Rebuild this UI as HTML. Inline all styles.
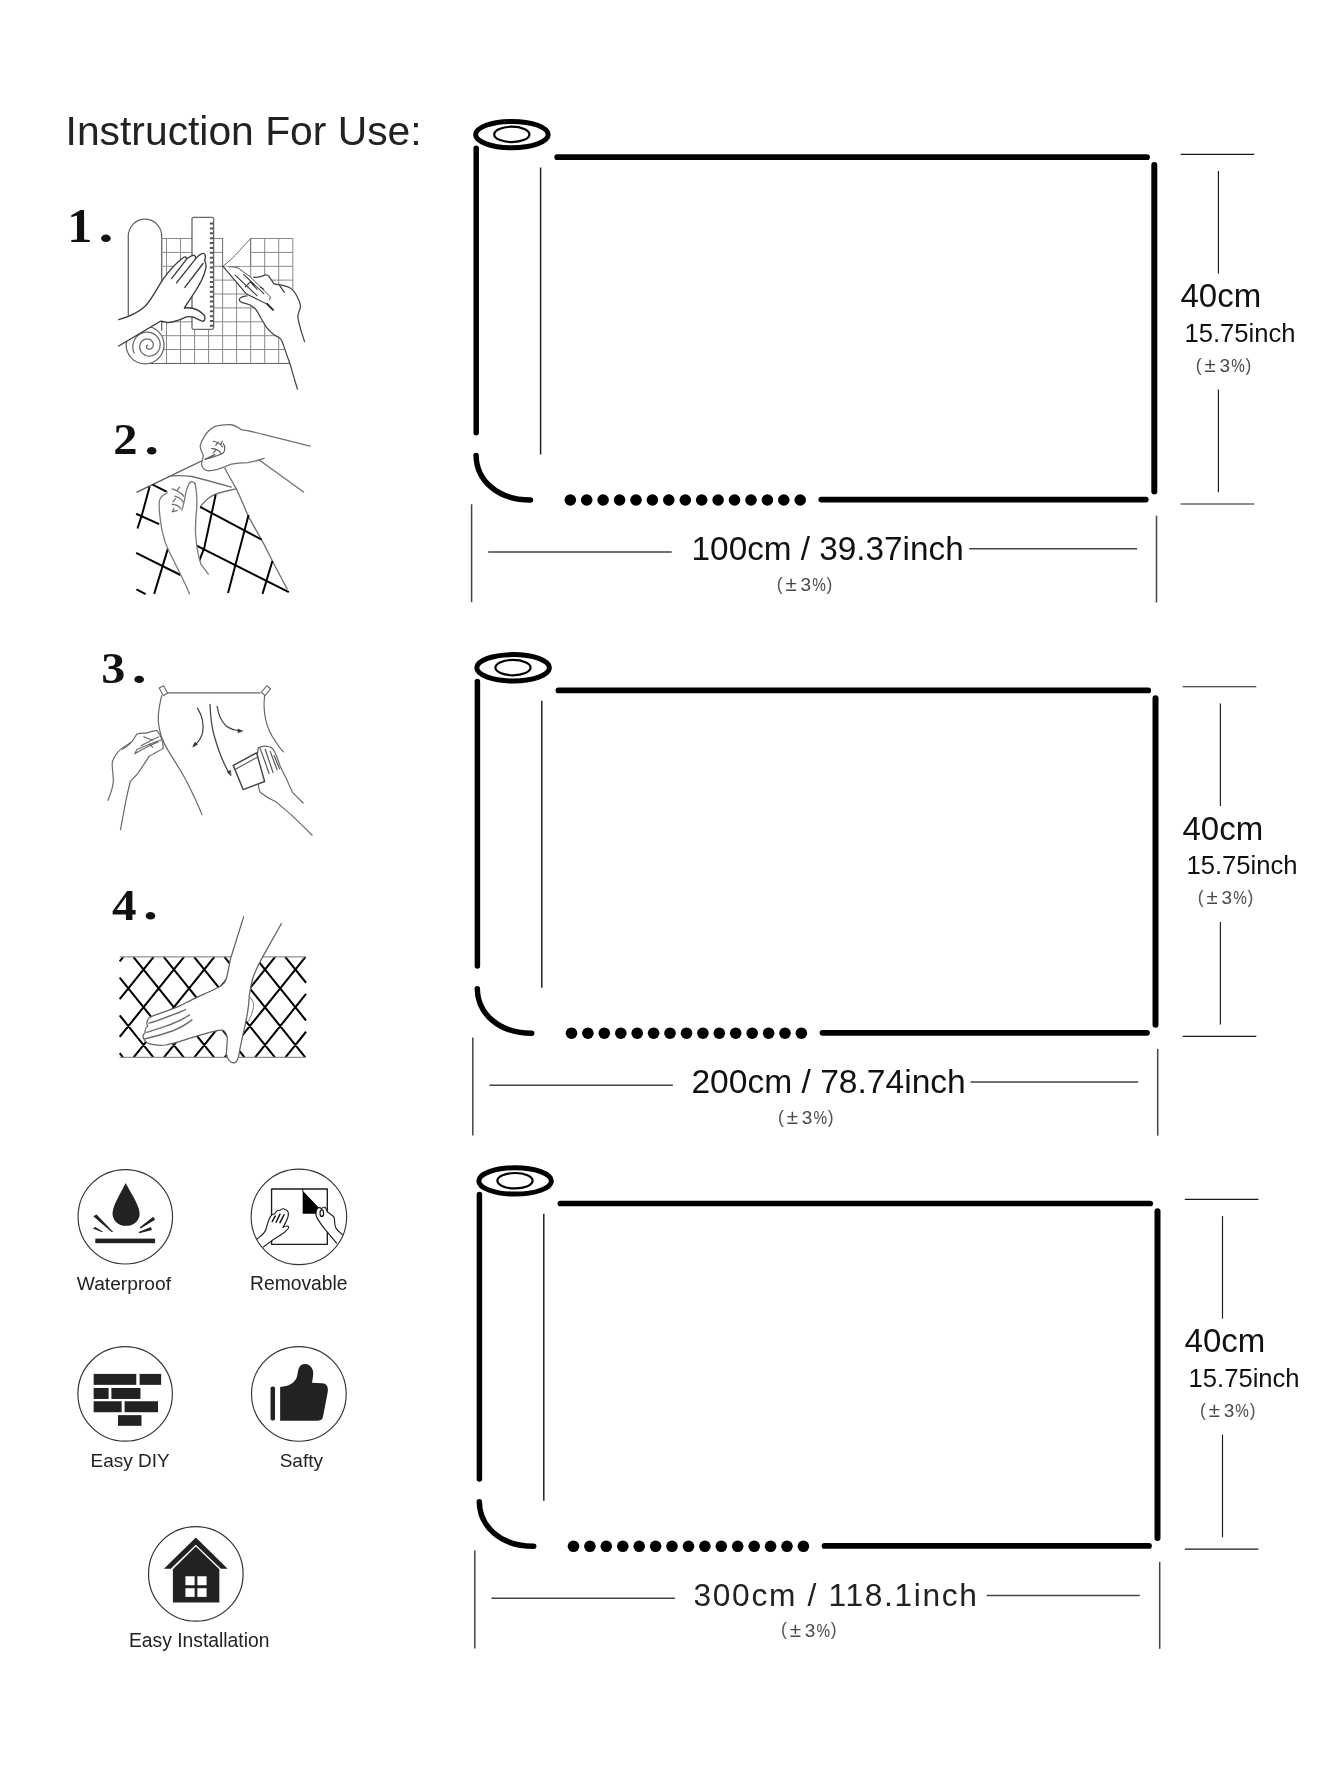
<!DOCTYPE html>
<html><head><meta charset="utf-8">
<style>
html,body{margin:0;padding:0;background:#fff;}
body{width:1340px;height:1785px;overflow:hidden;font-family:"Liberation Sans",sans-serif;}
svg{display:block;will-change:transform;}
text{font-family:"Liberation Sans",sans-serif;}
.ser{font-family:"Liberation Serif",serif;font-weight:bold;}
</style></head><body>
<svg width="1340" height="1785" viewBox="0 0 1340 1785">
<rect width="1340" height="1785" fill="#fff"/>
<defs>
<g id="pm" fill="#484848" stroke="none" font-size="19">
  <text x="-0.8" y="-1.2" font-size="17.5" fill="#555">(</text>
  <text x="8" y="0" font-size="20.5">±</text>
  <text x="23" y="0">3</text>
  <text x="34.6" y="0" textLength="13.6" lengthAdjust="spacingAndGlyphs">%</text>
  <text x="49" y="-1.2" font-size="17.5" fill="#555">)</text>
</g>
<g id="roll" fill="none" stroke="#000" stroke-linecap="round">
  <ellipse cx="511.9" cy="134.6" rx="36.3" ry="13.2" stroke-width="5"/>
  <ellipse cx="511.8" cy="134.4" rx="17.6" ry="7.7" stroke-width="2.2"/>
  <line x1="476.2" y1="148.3" x2="476.2" y2="432.7" stroke-width="5.5"/>
  <path d="M476.1,455.5 C476.5,480 497,500 530.5,500" stroke-width="5.5"/>
  <line x1="540.6" y1="167.5" x2="540.6" y2="454.5" stroke-width="1.5" stroke="#222" stroke-linecap="butt"/>
  <line x1="557.2" y1="157.2" x2="1147" y2="157.2" stroke-width="5.7"/>
  <line x1="1154.3" y1="165" x2="1154.3" y2="491.6" stroke-width="6"/>
  <line x1="821.3" y1="499.6" x2="1145.8" y2="499.6" stroke-width="5.7"/>
  <g fill="#000" stroke="none" id="dots">
    <circle cx="570.3" cy="500" r="5.8"/><circle cx="586.7" cy="500" r="5.8"/><circle cx="603.1" cy="500" r="5.8"/>
    <circle cx="619.6" cy="500" r="5.8"/><circle cx="636" cy="500" r="5.8"/><circle cx="652.4" cy="500" r="5.8"/>
    <circle cx="668.8" cy="500" r="5.8"/><circle cx="685.3" cy="500" r="5.8"/><circle cx="701.7" cy="500" r="5.8"/>
    <circle cx="718.1" cy="500" r="5.8"/><circle cx="734.5" cy="500" r="5.8"/><circle cx="751" cy="500" r="5.8"/>
    <circle cx="767.4" cy="500" r="5.8"/><circle cx="783.8" cy="500" r="5.8"/><circle cx="800.2" cy="500" r="5.8"/>
  </g>
  <g stroke="#444" stroke-width="1.5" stroke-linecap="butt">
    <line x1="471.6" y1="504.2" x2="471.6" y2="602.2"/>
    <line x1="1156.5" y1="515.6" x2="1156.5" y2="602.5"/>
    <line x1="488.2" y1="552" x2="671.7" y2="552"/>
  </g>
</g>
<g id="rdim" fill="none">
  <g stroke="#1a1a1a" stroke-width="1.15" stroke-linecap="butt">
    <line x1="1180.7" y1="154.3" x2="1254.3" y2="154.3"/>
    <line x1="1180.7" y1="504" x2="1254.3" y2="504"/>
    <line x1="1218.4" y1="171" x2="1218.4" y2="273.6"/>
    <line x1="1218.4" y1="389.5" x2="1218.4" y2="492.2"/>
  </g>
  <g stroke="none" fill="#111">
    <text x="1180.5" y="307.2" font-size="33">40cm</text>
    <text x="1184.5" y="341.5" font-size="25.6">15.75inch</text>
    <use href="#pm" x="1196.6" y="372"/>
  </g>
</g>
</defs>

<!-- ROLLS -->
<use href="#roll"/><use href="#rdim"/>
<line x1="969.2" y1="548.8" x2="1137.1" y2="548.8" stroke="#444" stroke-width="1.5"/>
<text x="691.6" y="559.5" font-size="33.3" fill="#111">100cm / 39.37inch</text>
<use href="#pm" x="777.6" y="591"/>

<use href="#roll" transform="translate(1.2,533.2)"/><use href="#rdim" transform="translate(2.0,532.4)"/>
<line x1="970.5" y1="1081.9" x2="1138.2" y2="1081.9" stroke="#444" stroke-width="1.5"/>
<text x="691.4" y="1092.5" font-size="33.6" fill="#111">200cm / 78.74inch</text>
<use href="#pm" x="778.8" y="1124.2"/>

<use href="#roll" transform="translate(3.2,1046.3)"/><use href="#rdim" transform="translate(4.1,1045.1)"/>
<line x1="986.6" y1="1595.6" x2="1139.8" y2="1595.6" stroke="#444" stroke-width="1.5"/>
<text x="693.5" y="1605.8" font-size="31.7" letter-spacing="1.68" fill="#222">300cm / 118.1inch</text>
<use href="#pm" x="781.8" y="1636.6"/>

<!-- HEADING -->
<text x="65.6" y="145.4" font-size="40.8" fill="#222">Instruction For Use:</text>

<!-- ILLUSTRATIONS PLACEHOLDER -->
<g id="ill1" fill="none" stroke-linecap="round" stroke-linejoin="round">
<!-- roll body -->
<path d="M128.3,315 V236 A16.7,16.8 0 0 1 161.7,236 V330" fill="#fff" stroke="#666" stroke-width="1.3"/>
<path d="M166.5,238.5V363.4M180.5,238.5V363.4M194.6,238.5V363.4M208.6,238.5V363.4M222.6,238.5V363.4M236.6,238.5V363.4M250.7,238.5V363.4M264.7,238.5V363.4M278.7,238.5V363.4M292.8,238.5V363.4M161.5,238.5H292.8M161.5,252.4H292.8M161.5,266.3H292.8M161.5,280.1H292.8M161.5,294.0H292.8M161.5,307.9H292.8M161.5,321.8H292.8M161.5,335.7H292.8M161.5,349.5H292.8M161.5,363.4H292.8" stroke="#8a8a8a" stroke-width="1"/>
<!-- cutout -->
<rect x="223.2" y="236" width="27" height="29.8" fill="#fff" stroke="none"/>
<path d="M222.6,238.5 V266.3 M250.6,238.5 V266" stroke="#777" stroke-width="1"/>
<path d="M250.6,238.8 C243,246 236,256 223,266.3" stroke="#666" stroke-width="1"/>
<!-- bottom roll + spiral -->
<circle cx="145.1" cy="345" r="18.9" fill="#fff" stroke="#666" stroke-width="1.25"/>
<path d="M147.7,345.3 L147.5,345.3 L147.4,345.3 L147.2,345.4 L147.0,345.5 L146.8,345.6 L146.7,345.7 L146.6,345.9 L146.5,346.2 L146.4,346.4 L146.4,346.7 L146.4,347.0 L146.4,347.2 L146.5,347.5 L146.7,347.8 L146.8,348.1 L147.1,348.4 L147.4,348.6 L147.7,348.8 L148.0,349.0 L148.4,349.1 L148.9,349.2 L149.3,349.2 L149.8,349.2 L150.2,349.1 L150.7,348.9 L151.1,348.7 L151.6,348.4 L152.0,348.1 L152.3,347.7 L152.7,347.2 L152.9,346.7 L153.1,346.1 L153.3,345.5 L153.3,344.9 L153.3,344.2 L153.2,343.6 L153.0,342.9 L152.7,342.3 L152.4,341.7 L151.9,341.1 L151.4,340.6 L150.8,340.1 L150.2,339.7 L149.4,339.4 L148.7,339.2 L147.9,339.0 L147.0,339.0 L146.2,339.0 L145.3,339.2 L144.5,339.5 L143.7,339.9 L142.9,340.4 L142.2,340.9 L141.6,341.6 L141.0,342.4 L140.5,343.2 L140.1,344.2 L139.9,345.1 L139.7,346.1 L139.7,347.2 L139.8,348.2 L140.0,349.3 L140.4,350.3 L140.8,351.3 L141.5,352.2 L142.2,353.1 L143.0,353.8 L144.0,354.5 L145.0,355.1 L146.1,355.5 L147.3,355.8 L148.5,356.0 L149.7,356.0 L151.0,355.9 L152.2,355.6 L153.4,355.2 L154.6,354.6 L155.7,353.9 L156.7,353.0 L157.6,352.0 L158.4,350.9 L159.1,349.7 L159.6,348.4 L159.9,347.0 L160.1,345.6 L160.1,344.2 L160.0,342.7 L159.7,341.3 L159.2,339.9 L158.5,338.5 L157.6,337.3 L156.6,336.1 L155.5,335.0 L154.2,334.1 L152.8,333.4 L151.3,332.8 L149.7,332.4 L148.1,332.2 L146.5,332.1 L144.8,332.3 L143.2,332.7 L141.6,333.3 L140.1,334.0 L138.6,335.0 L137.3,336.1 L136.1,337.4 L135.1,338.9 L134.2,340.5 L133.6,342.1 L133.1,343.9 L132.8,345.7 L132.8,347.6 L133.0,349.4 L133.4,351.3 L134.1,353.1" stroke="#666" stroke-width="1.25"/>
<line x1="150" y1="363.5" x2="289" y2="363.5" stroke="#666" stroke-width="1.2"/>
<!-- ruler -->
<rect x="192" y="217.3" width="21.6" height="112" rx="1.5" fill="#fff" stroke="#666" stroke-width="1.3"/>
<line x1="211.6" y1="222.6" x2="211.6" y2="328" stroke="#555" stroke-width="3.4" stroke-dasharray="2 2.87" stroke-linecap="butt"/>
<!-- left hand -->
<g transform="translate(115,205) scale(0.149254)">
<path d="M25,768 C90,750 150,725 200,680 C245,635 280,560 320,500 C360,445 420,380 458,352 C470,343 482,348 478,364 C495,350 515,335 530,338 C540,342 542,352 538,362 C555,345 575,322 592,324 C606,328 610,345 600,372 C606,385 614,400 608,425 C600,470 560,550 510,620 L465,690 C510,684 560,700 595,735 C606,750 606,770 590,780 C570,778 548,760 525,752 C505,746 490,748 480,750 C460,757 440,768 420,773 C395,782 370,790 348,787 C330,783 318,778 304,779 L25,945 Z" fill="#fff" stroke="none"/>
<path d="M25,768 C90,750 150,725 200,680 C245,635 280,560 320,500 C360,445 420,380 458,352 C470,343 482,348 478,364 C495,350 515,335 530,338 C540,342 542,352 538,362 C555,345 575,322 592,324 C606,328 610,345 600,372 C606,385 614,400 608,425 C600,470 560,550 510,620 L465,690 C510,684 560,700 595,735 C606,750 606,770 590,780 C570,778 548,760 525,752 C505,746 490,748 480,750 C460,757 440,768 420,773 C395,782 370,790 348,787 C330,783 318,778 304,779 L25,945" stroke="#3a3a3a" stroke-width="9"/>
<path d="M476,368 L380,492 M537,364 L412,522 M590,392 L468,552" stroke="#3a3a3a" stroke-width="9"/>
</g>
<!-- right hand + knife -->
<g transform="translate(210,250) scale(0.084034)">
<path d="M520,322 C560,330 610,320 660,296 C680,292 690,300 700,312 L760,400 C780,410 800,410 822,412 C870,420 915,430 950,450 C990,475 1020,520 1040,560 C1065,610 1080,640 1076,680 C1070,720 1040,760 1046,800 C1050,850 1070,900 1080,950 L1125,1090 L1040,1655 L950,1350 C925,1280 900,1210 880,1150 C865,1100 850,1060 830,1046 C800,1025 770,1020 750,1000 C720,975 700,955 680,930 C650,890 625,840 600,800 C580,760 560,720 530,690 C505,665 470,645 440,640 C410,636 385,632 370,620 C350,605 345,590 352,580 C362,562 380,556 440,546 Z" fill="#fff" stroke="none"/>
<path d="M520,322 C560,330 610,320 660,296 C680,292 690,300 700,312 L760,400 C780,410 800,410 822,412 C870,420 915,430 950,450 C990,475 1020,520 1040,560 C1065,610 1080,640 1076,680 C1070,720 1040,760 1046,800 C1050,850 1070,900 1080,950 L1125,1090" stroke="#444" stroke-width="15"/>
<path d="M822,412 L885,505" stroke="#444" stroke-width="15"/>
<path d="M1040,1655 L950,1350 C925,1280 900,1210 880,1150 C865,1100 850,1060 830,1046 C800,1025 770,1020 750,1000 C720,975 700,955 680,930 C650,890 625,840 600,800 C580,760 560,720 530,690 C505,665 470,645 440,640 C410,636 385,632 370,620 C350,605 345,590 352,580 C362,562 380,556 440,546" stroke="#444" stroke-width="15"/>
<!-- knife -->
<path d="M155,195 L225,198 C270,195 320,205 350,225 L480,320 L720,560 L708,595 L430,520 Z" fill="#fff" stroke="none"/>
<path d="M155,195 L430,520 L690,650" stroke="#333" stroke-width="13"/>
<path d="M680,640 L750,712" stroke="#222" stroke-width="22"/>
<path d="M225,200 C270,195 320,205 350,225 L480,320 L720,560 L708,595" stroke="#444" stroke-width="11"/>
<path d="M300,300 L560,545 M400,290 L640,520 M420,440 L480,380 L560,470 M600,440 L640,465" stroke="#333" stroke-width="12"/>
</g>
</g>
<g id="ill2" fill="none" stroke-linecap="round" stroke-linejoin="round" transform="translate(100,410) scale(0.164179)">
<!-- thin sheet lines -->
<path d="M225,500 L640,300" stroke="#555" stroke-width="8"/>
<path d="M760,355 C790,410 810,445 830,480 C860,545 880,590 900,640 C935,705 970,765 1000,820 C1020,860 1035,890 1050,920 L1140,1090" stroke="#707070" stroke-width="8"/>
<path d="M430,402 C470,398 520,400 560,405 C640,425 730,450 800,470" stroke="#707070" stroke-width="8"/>
<path d="M612,588 C640,550 670,525 705,512 C745,498 790,490 830,480" stroke="#707070" stroke-width="8"/>
<!-- thick pattern -->
<g stroke="#000" stroke-width="12" stroke-linecap="butt">
<path d="M320,455 L430,510"/>
<path d="M220,632 L360,695"/>
<path d="M220,870 L490,1005"/>
<path d="M222,1093 L278,1122"/>
<path d="M610,590 L985,790"/>
<path d="M585,825 L1150,1110"/>
<path d="M302,468 L255,640 L228,722"/>
<path d="M415,840 L330,1120"/>
<path d="M705,515 L635,840 L602,925"/>
<path d="M905,640 L780,1115"/>
<path d="M1050,920 L990,1120"/>
</g>
<!-- lower hand (white fill) -->
<path d="M360,560 C362,520 400,500 440,480 C470,470 500,480 520,500 C525,470 535,445 548,440 C570,432 585,445 588,470 C592,520 592,560 588,610 C582,670 578,720 584,780 C590,840 600,900 615,940 L660,1000 L545,1120 C525,1070 505,1030 490,1000 C470,960 455,930 440,900 C420,860 405,830 395,800 C380,750 370,700 365,650 Z" fill="#fff" stroke="none"/>
<path d="M545,1120 C525,1070 505,1030 490,1000 C470,960 455,930 440,900 C420,860 405,830 395,800 C380,750 370,700 365,650 C360,600 358,570 362,555 C366,530 385,515 410,505" stroke="#7a7a7a" stroke-width="8"/>
<path d="M545,445 C530,470 522,500 518,530 C512,560 505,590 498,610" stroke="#7a7a7a" stroke-width="8"/>
<path d="M580,450 C590,500 592,560 588,610 C582,670 578,720 584,780 C590,840 600,900 615,940 L660,1000" stroke="#7a7a7a" stroke-width="8"/>
<path d="M545,445 C555,432 575,435 580,452" stroke="#7a7a7a" stroke-width="8"/>
<path d="M440,480 C470,490 495,505 510,525 M455,525 C475,530 495,540 505,560 M440,575 C460,575 480,585 490,600 M470,490 L485,470 M460,540 L445,560 M450,600 L440,620 L470,612" stroke="#707070" stroke-width="8"/>
<!-- upper hand (fist) -->
<path d="M1280,220 C1180,195 1080,170 1000,150 C940,135 900,125 860,120 C840,105 820,92 800,90 C765,88 730,92 700,100 C680,110 662,125 650,140 C630,170 615,195 610,220 C610,245 625,262 630,280 C622,300 615,320 620,340 C630,360 645,370 660,370 C680,370 700,365 720,360 C750,350 775,338 800,330 C835,322 870,320 900,320 C935,315 970,305 1000,295 L1240,500 Z" fill="#fff" stroke="none"/>
<path d="M1280,220 C1180,195 1080,170 1000,150 C940,135 900,125 860,120 C840,105 820,92 800,90 C765,88 730,92 700,100 C680,110 662,125 650,140 C630,170 615,195 610,220 C610,245 625,262 630,280 C622,300 615,320 620,340 C630,360 645,370 660,370 C680,370 700,365 720,360 C750,350 775,338 800,330 C835,322 870,320 900,320 C935,315 970,305 1000,295" stroke="#707070" stroke-width="8"/>
<path d="M970,305 L1240,500" stroke="#707070" stroke-width="8"/>
<path d="M690,190 C715,195 735,205 745,225 M680,235 C700,235 725,245 735,262 M640,300 C680,290 720,280 750,262 C765,245 762,220 750,205 M705,215 L720,195 M690,262 L705,245 M745,190 L735,210" stroke="#555" stroke-width="7"/>
<path d="M640,300 L700,272" stroke="#555" stroke-width="8"/>
</g>
<g id="ill3" fill="none" stroke-linecap="round" stroke-linejoin="round" transform="translate(90,640) scale(0.179104)">
<!-- tapes -->
<g stroke="#666" stroke-width="6" fill="#fff">
<rect x="-24" y="-14" width="48" height="28" transform="translate(410,283) rotate(62)"/>
<rect x="-24" y="-14" width="48" height="28" transform="translate(982,283) rotate(-50)"/>
</g>
<path d="M435,295 L950,295" stroke="#666" stroke-width="6.5"/>
<path d="M400,312 C388,360 378,410 382,460 C388,520 410,575 435,615 C465,665 505,725 540,790 C570,850 600,910 625,975" stroke="#666" stroke-width="6.5"/>
<path d="M975,312 C970,350 972,400 980,440 C990,490 1010,530 1035,565 C1050,590 1065,610 1080,625" stroke="#666" stroke-width="6.5"/>
<!-- arrows -->
<path d="M600,380 C625,420 638,470 628,520 C620,550 600,575 582,590" stroke="#444" stroke-width="7"/>
<path d="M574,596 L586,570 L600,582 Z" fill="#333" stroke="#333" stroke-width="3"/>
<path d="M670,360 C672,420 678,480 695,540 C715,610 745,690 778,745" stroke="#444" stroke-width="7"/>
<path d="M786,758 L766,736 L784,728 Z" fill="#333" stroke="#333" stroke-width="3"/>
<path d="M710,370 C715,410 730,450 760,480 C785,498 815,505 840,506" stroke="#444" stroke-width="7"/>
<path d="M852,508 L826,497 L826,517 Z" fill="#333" stroke="#333" stroke-width="3"/>
<!-- left hand -->
<path d="M100,895 C115,860 128,820 130,790 C132,750 120,715 125,680 C135,650 150,628 170,612 C190,595 215,582 232,570 C245,555 252,538 262,525 C280,518 300,520 315,520 C335,512 355,508 372,505 C385,515 395,535 402,560 C408,580 410,595 408,605 C385,615 355,625 330,650 C310,680 290,712 270,740 C255,760 238,775 225,790 C215,830 207,865 200,900 L170,1060 Z" fill="#fff" stroke="none"/>
<path d="M100,895 C115,860 128,820 130,790 C132,750 120,715 125,680 C135,650 150,628 170,612 C190,595 215,582 232,570 C245,555 252,538 262,525 C280,518 300,520 315,520 C335,512 355,508 372,505 C385,515 395,535 402,560 C408,580 410,595 408,605" stroke="#666" stroke-width="6.5"/>
<path d="M170,1060 L200,900 C207,865 215,830 225,790 C238,775 255,760 270,740 C290,712 310,680 330,650" stroke="#666" stroke-width="6.5"/>
<path d="M250,635 C285,615 330,590 380,570 M262,612 C300,595 345,575 395,560 M285,590 C320,570 350,555 385,540 M180,610 C200,600 215,590 228,575 M250,635 L262,612 M330,650 C350,635 385,620 408,605 M300,540 L350,560 M330,580 L350,600" stroke="#666" stroke-width="6"/>
<!-- squeegee -->
<!-- right hand -->
<path d="M940,602 C960,592 985,592 1000,596 C1015,600 1025,610 1030,622 C1045,650 1052,680 1062,705 C1075,735 1090,760 1100,782 C1112,810 1120,830 1132,852 L1190,910 L1240,1090 C1200,1050 1165,1015 1130,982 C1100,955 1070,930 1040,905 C1005,890 975,870 950,850 C942,835 940,815 940,800 C955,795 965,790 975,790 L930,632 Z" fill="#fff" stroke="none"/>
<path d="M940,602 C960,592 985,592 1000,596 C1015,600 1025,610 1030,622 C1045,650 1052,680 1062,705 C1075,735 1090,760 1100,782 C1112,810 1120,830 1132,852 L1190,910" stroke="#666" stroke-width="6.5"/>
<path d="M1240,1090 C1200,1050 1165,1015 1130,982 C1100,955 1070,930 1040,905 C1005,890 975,870 950,850 C942,835 940,815 940,800" stroke="#666" stroke-width="6.5"/>
<path d="M800,700 L930,630 L975,790 L855,835 Z" fill="#fff" stroke="#444" stroke-width="8"/>
<path d="M812,722 L938,652" stroke="#555" stroke-width="6"/>
<path d="M950,605 L1000,745 M978,610 L1022,740 M1006,622 L1045,725 M1028,645 L1058,718" stroke="#555" stroke-width="6.5"/>
<path d="M940,602 L935,635" stroke="#555" stroke-width="6.5"/>
</g>
<g id="ill4" fill="none" stroke-linecap="round" stroke-linejoin="round" transform="translate(100,880) scale(0.164179)">
<path d="M140.3,1080.0L120.0,1054.7M325.3,1080.0L120.0,824.7M510.3,1080.0L120.0,594.7M141.9,468.0L120.0,495.3M203.1,468.0L695.3,1080.0M326.9,468.0L120.0,725.3M388.1,468.0L880.3,1080.0M511.9,468.0L120.0,955.3M573.1,468.0L1065.3,1080.0M696.9,468.0L204.7,1080.0M758.1,468.0L1250.3,1080.0M881.9,468.0L389.7,1080.0M943.1,468.0L1255.0,855.8M1066.9,468.0L574.7,1080.0M1128.1,468.0L1255.0,625.8M1251.9,468.0L759.7,1080.0M944.7,1080.0L1255.0,694.2M1129.7,1080.0L1255.0,924.2" stroke="#000" stroke-width="12.5" stroke-linecap="butt"/>
<path d="M120,468 H1255 M120,1080 H1255" stroke="#909090" stroke-width="7.5" stroke-linecap="butt"/>
<!-- hand -->
<path d="M875,225 L795,480 C785,530 778,570 770,600 C760,630 740,645 720,655 C680,675 640,692 600,710 C560,728 520,750 480,770 C430,790 380,808 330,825 C310,832 295,840 290,852 C282,870 285,880 290,890 C278,900 272,915 275,930 C262,940 260,955 265,965 C275,985 290,995 310,1000 C340,1008 370,1008 400,1005 C455,995 510,975 560,960 C610,945 655,930 700,920 C720,915 738,912 750,915 C765,925 772,940 775,960 C776,995 770,1030 770,1060 C775,1085 785,1100 800,1110 C815,1118 830,1112 835,1100 C845,1080 848,1060 850,1040 C860,990 870,945 880,900 C888,865 895,830 900,800 C905,765 908,730 910,700 C915,665 922,630 930,600 C945,555 968,510 990,470 L1105,265 Z" fill="#fff" stroke="none"/>
<path d="M875,225 L795,480 C785,530 778,570 770,600 C760,630 740,645 720,655 C680,675 640,692 600,710 C560,728 520,750 480,770 C430,790 380,808 330,825 C310,832 295,840 290,852 C282,870 285,880 290,890 C278,900 272,915 275,930 C262,940 260,955 265,965 C275,985 290,995 310,1000 C340,1008 370,1008 400,1005 C455,995 510,975 560,960 C610,945 655,930 700,920 C720,915 738,912 750,915 C765,925 772,940 775,960 C776,995 770,1030 770,1060 C775,1085 785,1100 800,1110 C815,1118 830,1112 835,1100 C845,1080 848,1060 850,1040 C860,990 870,945 880,900 C888,865 895,830 900,800 C905,765 908,730 910,700 C915,665 922,630 930,600 C945,555 968,510 990,470 L1105,265" stroke="#606060" stroke-width="7.5"/>
<path d="M300,872 C340,860 380,845 420,830 C455,818 490,805 520,790 M285,928 C335,912 385,895 430,880 C470,865 510,845 545,822 M272,968 C330,955 390,938 440,920 C485,902 525,880 560,852" stroke="#707070" stroke-width="9"/>
<path d="M910,710 C930,730 938,750 935,772 C930,805 918,835 905,860" stroke="#777" stroke-width="6"/>
</g>
<g id="labels" fill="#111">
<text class="ser" transform="translate(67.3,241.8) scale(1.17,1.125)" font-size="43">1</text><ellipse cx="105.9" cy="238.3" rx="4.8" ry="3.7"/>
<text class="ser" transform="translate(113.3,454.3) scale(1.13,1.05)" font-size="43">2</text><ellipse cx="151.7" cy="450.8" rx="4.8" ry="3.7"/>
<text class="ser" transform="translate(101.2,683.3) scale(1.12,1.05)" font-size="43">3</text><ellipse cx="139.2" cy="679.4" rx="4.8" ry="3.7"/>
<text class="ser" transform="translate(112.0,919.5) scale(1.14,1.05)" font-size="43">4</text><ellipse cx="150.5" cy="915.8" rx="4.8" ry="3.7"/>
</g>

<!-- ICONS -->
<g id="icons">
<!-- Waterproof -->
<g transform="translate(60,1150) scale(0.10448)">
  <circle cx="625" cy="639.5" r="452" fill="none" stroke="#333" stroke-width="11"/>
  <path d="M628,316 C600,380 508,520 503,602 C500,672 556,726 632,726 C710,726 766,672 762,602 C756,520 660,380 628,316 Z" fill="#222"/>
  <rect x="338" y="848" width="572" height="44" fill="#222"/>
  <polygon points="318,634 350,618 510,784 494,784" fill="#222"/>
  <polygon points="314,752 338,736 414,784 398,786" fill="#222"/>
  <polygon points="892,640 910,668 772,752 762,742" fill="#222"/>
  <polygon points="870,738 880,766 760,796 752,784" fill="#222"/>
</g>
<text x="76.8" y="1290" font-size="19.2" fill="#222">Waterproof</text>
<!-- Removable -->
<g transform="translate(250,1170) scale(0.074627)" stroke-linecap="round" stroke-linejoin="round">
  <rect x="289" y="254" width="747" height="742" fill="#fff" stroke="#1a1a1a" stroke-width="18"/>
  <line x1="708" y1="254" x2="708" y2="285" stroke="#1a1a1a" stroke-width="12"/>
  <polygon points="706,278 706,587 1000,587" fill="#000"/>
  <!-- left hand -->
  <path d="M95,925 C150,880 195,850 212,800 C228,750 240,690 262,645 C280,610 305,585 330,590 C345,560 375,535 400,540 C420,520 450,515 468,530 C490,535 515,560 515,595 C512,640 490,690 440,770 C470,752 505,745 518,762 C520,790 490,815 440,850 C380,885 300,935 180,1030 Z" fill="#fff" stroke="none"/>
  <path d="M95,925 C150,880 195,850 212,800 C228,750 240,690 262,645 C280,610 305,585 330,590 C345,560 375,535 400,540 C420,520 450,515 468,530 C490,535 515,560 515,595 C512,640 490,690 440,770 C470,752 505,745 518,762 C520,790 490,815 440,850 C380,885 300,935 180,1030" fill="none" stroke="#1a1a1a" stroke-width="15"/>
  <path d="M298,690 L338,618 M350,700 L402,592 M402,705 L456,600" fill="none" stroke="#111" stroke-width="20"/>
  <!-- right hand -->
  <path d="M1240,870 C1200,830 1160,800 1148,770 C1130,730 1135,680 1130,640 C1115,610 1070,585 1035,560 C1025,535 1020,510 1005,500 C985,495 970,505 960,520 C945,505 920,500 905,512 C890,530 880,570 885,610 C900,660 950,725 1000,790 C1050,850 1100,910 1160,980 Z" fill="#fff" stroke="none"/>
  <path d="M1240,870 C1200,830 1160,800 1148,770 C1130,730 1135,680 1130,640 C1115,610 1070,585 1035,560 C1025,535 1020,510 1005,500 C985,495 970,505 960,520 C945,505 920,500 905,512 C890,530 880,570 885,610 C900,660 950,725 1000,790 C1050,850 1100,910 1160,980" fill="none" stroke="#1a1a1a" stroke-width="15"/>
  <ellipse cx="962" cy="578" rx="24" ry="44" fill="#fff" stroke="#111" stroke-width="16"/>
  <circle cx="655" cy="628" r="640" fill="none" stroke="#333" stroke-width="15"/>
</g>
<text x="250" y="1290" font-size="19.3" fill="#222">Removable</text>
<!-- Easy DIY -->
<g transform="translate(60,1330) scale(0.10448)">
  <circle cx="623.5" cy="611.5" r="452" fill="none" stroke="#333" stroke-width="11"/>
  <g fill="#222">
  <rect x="322" y="420" width="408" height="105"/><rect x="762" y="420" width="206" height="105"/>
  <rect x="322" y="555" width="143" height="105"/><rect x="492" y="555" width="278" height="105"/>
  <rect x="322" y="682" width="268" height="105"/><rect x="618" y="682" width="320" height="105"/>
  <rect x="555" y="815" width="225" height="102"/>
  </g>
</g>
<text x="90.5" y="1467.4" font-size="19" fill="#222">Easy DIY</text>
<!-- Safty -->
<g transform="translate(230,1330) scale(0.10448)">
  <circle cx="659" cy="611.5" r="453" fill="none" stroke="#333" stroke-width="11"/>
  <rect x="388" y="540" width="43" height="326" rx="18" fill="#222"/>
  <path d="M480,545 C560,540 620,510 640,450 C652,410 648,360 682,335 C722,310 780,332 795,392 C800,432 790,470 785,506 L880,510 C922,510 942,540 936,590 L890,830 C884,860 860,868 830,868 L480,868 Z" fill="#222"/>
</g>
<text x="279.7" y="1467" font-size="19" fill="#222">Safty</text>
<!-- Easy Installation -->
<g transform="translate(120,1510) scale(0.1194)">
  <circle cx="635" cy="535" r="396" fill="none" stroke="#333" stroke-width="10"/>
  <polygon points="635,230 902,492 845,492 635,290 425,492 368,492" fill="#222"/>
  <polygon points="635,305 832,497 832,775 443,775 443,497" fill="#222"/>
  <g fill="#fff"><rect x="548" y="555" width="77" height="75"/><rect x="648" y="555" width="77" height="75"/><rect x="548" y="655" width="77" height="73"/><rect x="648" y="655" width="77" height="73"/></g>
</g>
<text x="129" y="1647.3" font-size="19.3" fill="#222">Easy Installation</text>
</g>
</svg>
</body></html>
